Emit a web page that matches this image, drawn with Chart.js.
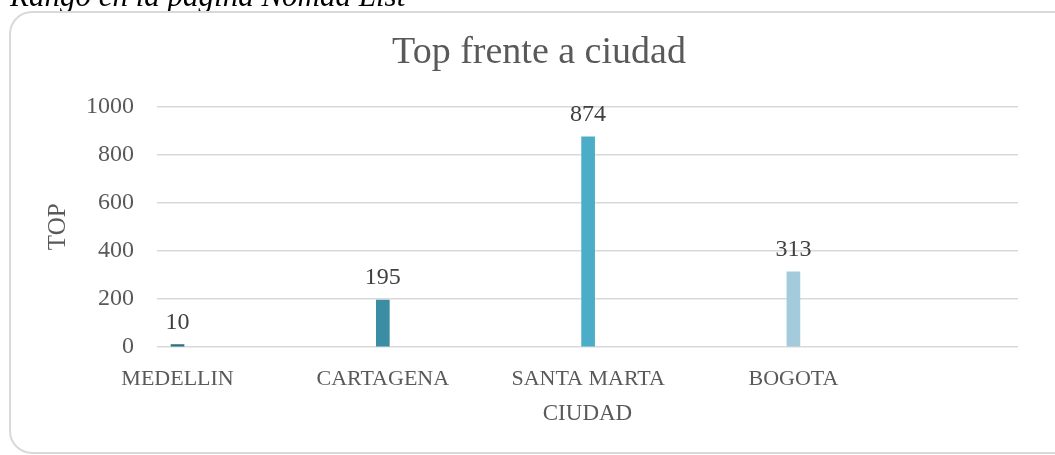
<!DOCTYPE html>
<html lang="es">
<head>
    <meta charset="UTF-8">
    <title>Top frente a ciudad</title>
    <script src="https://cdn.jsdelivr.net/npm/chart.js"></script>
    <style>
        body {
            margin: 0;
            background: #ffffff;
        }
        #wrap {
            width: 1055px;
            height: 455px;
            position: relative;
        }
    </style>
</head>
<body>
    <div id="wrap">
        <canvas id="chart"></canvas>
    </div>

    <script>
        // Chart data
        const cities = ["MEDELLIN", "CARTAGENA", "SANTA MARTA", "BOGOTA"];
        const topValues = [10, 195, 874, 313];
        const barColors = ["#2e6e82", "#3b8da4", "#4badc7", "#a3cbdb"];
        const yTicks = [0, 200, 400, 600, 800, 1000];

        const serif = "'Liberation Serif', 'Times New Roman', serif";
        const grey = "#595959";

        // frame around the chart and the caption above it (cut off at the top)
        const framePlugin = {
            id: "frame",
            beforeDraw(chart) {
                const ctx = chart.ctx;
                ctx.save();
                ctx.fillStyle = "#ffffff";
                ctx.fillRect(0, 0, chart.width, chart.height);

                ctx.fillStyle = "#000000";
                ctx.font = "italic 31px " + serif;
                ctx.textBaseline = "alphabetic";
                ctx.textAlign = "left";
                ctx.fillText("Rango en la página Nomad List", 10, 6);

                ctx.strokeStyle = "#d9d9d9";
                ctx.lineWidth = 2;
                ctx.beginPath();
                ctx.roundRect(10, 12, 1070, 441, 22);
                ctx.stroke();
                ctx.restore();
            }
        };

        // value labels above each bar
        const labelPlugin = {
            id: "barLabels",
            afterDatasetsDraw(chart) {
                const ctx = chart.ctx;
                const meta = chart.getDatasetMeta(0);
                ctx.save();
                ctx.fillStyle = "#404040";
                ctx.font = "24px " + serif;
                ctx.textAlign = "center";
                ctx.textBaseline = "alphabetic";
                meta.data.forEach((bar, i) => {
                    ctx.fillText(String(topValues[i]), bar.x, bar.y - 16);
                });
                ctx.restore();
            }
        };

        new Chart(document.getElementById("chart"), {
            type: "bar",
            data: {
                datasets: [{
                    label: "TOP",
                    data: cities.map((c, i) => ({ x: i, y: topValues[i] })),
                    backgroundColor: barColors,
                    borderWidth: 0,
                    barThickness: 13
                }]
            },
            options: {
                responsive: true,
                maintainAspectRatio: false,
                animation: false,
                layout: {
                    padding: { left: 0, right: -23, top: 12, bottom: 0 }
                },
                plugins: {
                    legend: { display: false },
                    tooltip: { enabled: false },
                    title: {
                        display: true,
                        text: "Top frente a ciudad",
                        color: grey,
                        font: { family: serif, size: 38, weight: "normal" },
                        padding: { top: 18, bottom: 31 }
                    }
                },
                scales: {
                    x: {
                        type: "linear",
                        offset: false,
                        min: -0.1,
                        max: 4.094,
                        grid: { display: false, offset: false },
                        border: { display: false },
                        afterBuildTicks(scale) {
                            scale.ticks = cities.map((c, i) => ({ value: i }));
                        },
                        afterFit(scale) {
                            scale.height = 108;
                        },
                        ticks: {
                            color: grey,
                            padding: 11,
                            maxRotation: 0,
                            autoSkip: false,
                            font: { family: serif, size: 22 },
                            callback: (value) => cities[value] ?? ""
                        },
                        title: {
                            display: true,
                            text: "CIUDAD",
                            color: grey,
                            font: { family: serif, size: 23 },
                            padding: { top: 0, bottom: 27 }
                        }
                    },
                    y: {
                        min: 0,
                        max: 1000,
                        afterBuildTicks(scale) {
                            scale.ticks = yTicks.map(v => ({ value: v }));
                        },
                        afterFit(scale) {
                            scale.width = 157;
                        },
                        grid: {
                            color: "#d9d9d9",
                            lineWidth: 1.5,
                            drawTicks: false
                        },
                        border: { display: false },
                        ticks: {
                            color: grey,
                            padding: 23,
                            font: { family: serif, size: 24 },
                            callback: (value) => String(value)
                        },
                        title: {
                            display: true,
                            text: "TOP",
                            color: grey,
                            font: { family: serif, size: 25 },
                            padding: { top: 43 }
                        }
                    },
                    y2: {
                        position: "right",
                        display: true,
                        grid: { display: false },
                        border: { display: false },
                        ticks: { display: false },
                        afterFit(scale) {
                            scale.width = 60;
                        }
                    }
                }
            },
            plugins: [framePlugin, labelPlugin]
        });
    </script>
</body>
</html>
